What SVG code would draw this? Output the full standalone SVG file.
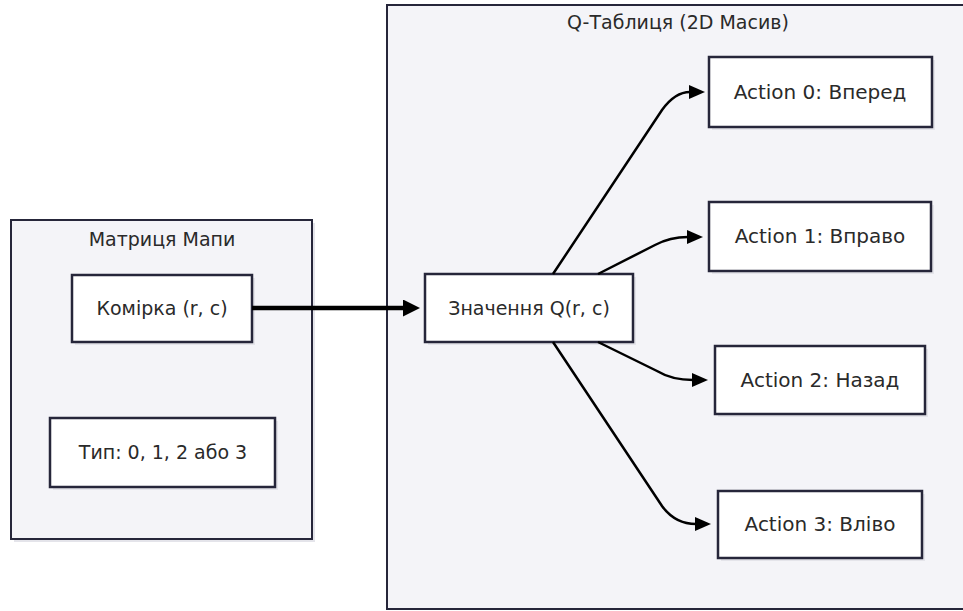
<svg xmlns="http://www.w3.org/2000/svg" width="963" height="611" viewBox="0 0 963 611">
<style>
.cluster{fill:#f4f4f8;stroke:#26263a;stroke-width:2}
.node{fill:#ffffff;stroke:#26263a;stroke-width:2.5}
.shadow{fill:#e4e4ea}
.t{font-family:"DejaVu Sans","Noto Sans",sans-serif;font-size:19px;fill:#2a2a2a;text-anchor:middle;dominant-baseline:central}
.a{font-size:20px}
.edge{fill:none;stroke:#000;stroke-width:2.5}
.main{fill:none;stroke:#000;stroke-width:4.5}
</style>
<defs>
<marker id="ah" viewBox="0 0 16 14" refX="1" refY="7" markerWidth="16" markerHeight="14" markerUnits="userSpaceOnUse" orient="auto">
<path d="M0,0 L16,7 L0,14 z" fill="#000"/>
</marker>
<marker id="ahm" viewBox="0 0 17 17" refX="1" refY="8.5" markerWidth="17" markerHeight="17" markerUnits="userSpaceOnUse" orient="auto">
<path d="M0,0 L17,8.5 L0,17 z" fill="#000"/>
</marker>
</defs>
<rect width="963" height="611" fill="#ffffff"/>
<g id="cluster-map">
<rect class="shadow" x="14" y="223" width="301" height="319"/>
<rect class="cluster" x="11" y="220" width="301" height="319"/>
<text class="t" x="162" y="239">Матриця Мапи</text>
</g>
<g id="cluster-q">
<rect class="cluster" x="387" y="5" width="590" height="604"/>
<text class="t" x="678" y="22">Q-Таблиця (2D Масив)</text>
</g>
<g id="cell">
<rect class="shadow" x="75" y="278" width="180" height="67"/>
<rect class="node" x="72" y="275" width="180" height="67"/>
<text class="t" x="162" y="308">Комірка (r, c)</text>
</g>
<g id="type">
<rect class="shadow" x="53" y="421" width="225" height="69"/>
<rect class="node" x="50" y="418" width="225" height="69"/>
<text class="t" x="163" y="452">Тип: 0, 1, 2 або 3</text>
</g>
<g id="qvalue">
<rect class="shadow" x="428" y="277" width="208" height="68"/>
<rect class="node" x="425" y="274" width="208" height="68"/>
<text class="t" x="529" y="308">Значення Q(r, c)</text>
</g>
<g id="a0">
<rect class="shadow" x="712" y="60" width="223" height="70"/>
<rect class="node" x="709" y="57" width="223" height="70"/>
<text class="t a" x="820" y="92">Action 0: Вперед</text>
</g>
<g id="a1">
<rect class="shadow" x="712" y="205" width="222" height="69"/>
<rect class="node" x="709" y="202" width="222" height="69"/>
<text class="t a" x="820" y="236">Action 1: Вправо</text>
</g>
<g id="a2">
<rect class="shadow" x="718" y="349" width="210" height="68"/>
<rect class="node" x="715" y="346" width="210" height="68"/>
<text class="t a" x="820" y="380">Action 2: Назад</text>
</g>
<g id="a3">
<rect class="shadow" x="721" y="494" width="204" height="67"/>
<rect class="node" x="718" y="491" width="204" height="67"/>
<text class="t a" x="820" y="524">Action 3: Вліво</text>
</g>
<g id="connectors">
<path class="main" d="M252,308 L404,308" marker-end="url(#ahm)"/>
<path class="edge" d="M553,274 L662,110 Q675,92 690,92" marker-end="url(#ah)"/>
<path class="edge" d="M598,274 L655,245 Q670,237 688,237" marker-end="url(#ah)"/>
<path class="edge" d="M598,342 L657,371 Q672,380 693,380" marker-end="url(#ah)"/>
<path class="edge" d="M553,342 L662,506 Q675,524 696,524" marker-end="url(#ah)"/>
</g>
</svg>
